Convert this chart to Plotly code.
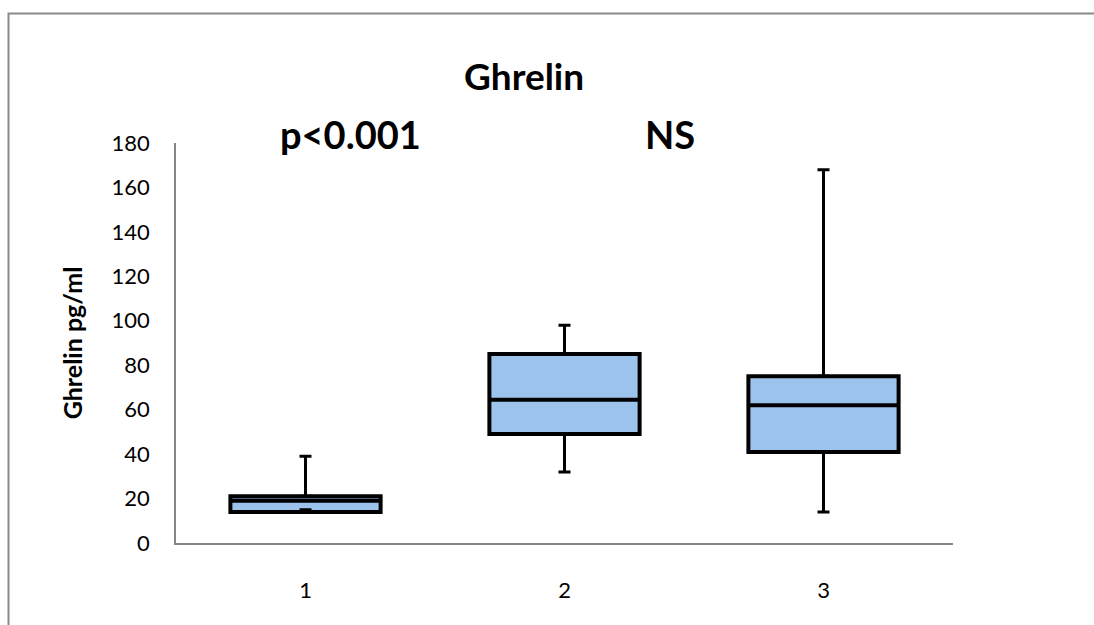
import plotly.graph_objects as go

# ---- data ----
groups = ["1", "2", "3"]
q1 = [14, 49, 41]
median = [19, 64.5, 62]
q3 = [21, 85, 75]
lower = [15, 32, 14]
upper = [39, 98, 168]
title_text = "Ghrelin"
y_title = "Ghrelin pg/ml"
p_labels = ["p<0.001", "NS"]
y_ticks = list(range(0, 181, 20))

FONT = "Lato"
FILL = "#9CC3EC"

fig = go.Figure()

# boxes (whiskers drawn separately so they get Excel-style caps)
fig.add_trace(go.Box(
    x=groups, q1=q1, median=median, q3=q3,
    lowerfence=q1, upperfence=q3,
    width=0.58, whiskerwidth=0,
    fillcolor=FILL,
    line=dict(color="black", width=4),
    boxpoints=False, hoverinfo="skip", showlegend=False,
))

# upper whiskers
up_mid = [(a + b) / 2 for a, b in zip(q3, upper)]
up_half = [(b - a) / 2 for a, b in zip(q3, upper)]
fig.add_trace(go.Scatter(
    x=groups, y=up_mid, mode="markers",
    marker=dict(size=1, color="rgba(0,0,0,0)"),
    error_y=dict(type="data", array=up_half, symmetric=True,
                 color="black", thickness=3, width=6),
    hoverinfo="skip", showlegend=False,
))
# lower whiskers
lo_mid = [(a + b) / 2 for a, b in zip(q1, lower)]
lo_half = [abs(a - b) / 2 for a, b in zip(q1, lower)]
fig.add_trace(go.Scatter(
    x=groups, y=lo_mid, mode="markers",
    marker=dict(size=1, color="rgba(0,0,0,0)"),
    error_y=dict(type="data", array=lo_half, symmetric=True,
                 color="black", thickness=3, width=6),
    hoverinfo="skip", showlegend=False,
))

L, R, T, B = 176, 141, 143, 82
W, H = 1094, 625
pw, ph = W - L - R, H - T - B


def px(xp):
    return (xp - L) / pw


def py(yp):
    return (H - B - yp) / ph


annotations = [
    dict(text="<b>%s</b>" % title_text, x=px(524), y=py(75), xref="paper", yref="paper",
         xanchor="center", yanchor="middle", showarrow=False,
         font=dict(family=FONT, size=37, color="black")),
    dict(text="<b>%s</b>" % p_labels[0], x=px(350), y=py(134), xref="paper", yref="paper",
         xanchor="center", yanchor="middle", showarrow=False,
         font=dict(family=FONT, size=38, color="black")),
    dict(text="<b>%s</b>" % p_labels[1], x=px(670), y=py(134), xref="paper", yref="paper",
         xanchor="center", yanchor="middle", showarrow=False,
         font=dict(family=FONT, size=38, color="black")),
]

border = dict(
    type="path", xref="paper", yref="paper",
    path="M %f %f L %f %f L %f %f" % (px(8.5), py(640), px(8.5), py(13.5), px(1110), py(13.5)),
    line=dict(color="#8a8a8a", width=2),
)

fig.update_layout(
    width=W, height=H,
    margin=dict(l=L, r=R, t=T, b=B),
    paper_bgcolor="white", plot_bgcolor="white",
    font=dict(family=FONT, color="black"),
    annotations=annotations,
    shapes=[border],
    showlegend=False,
)

fig.update_xaxes(
    type="category", range=[-0.5, 2.5],
    showline=True, linecolor="#868686", linewidth=1.5,
    showgrid=False, zeroline=False, ticks="",
    ticklabelstandoff=27,
    tickfont=dict(family=FONT, size=22, color="black"),
)
fig.update_yaxes(
    range=[0, 180], tickvals=y_ticks,
    showline=True, linecolor="#868686", linewidth=1.5,
    showgrid=False, zeroline=False, ticks="",
    ticklabelstandoff=20,
    tickfont=dict(family=FONT, size=22, color="black"),
    title=dict(text="<b>%s</b>" % y_title, standoff=22,
               font=dict(family=FONT, size=25, color="black")),
)

fig.write_html("out.html")
